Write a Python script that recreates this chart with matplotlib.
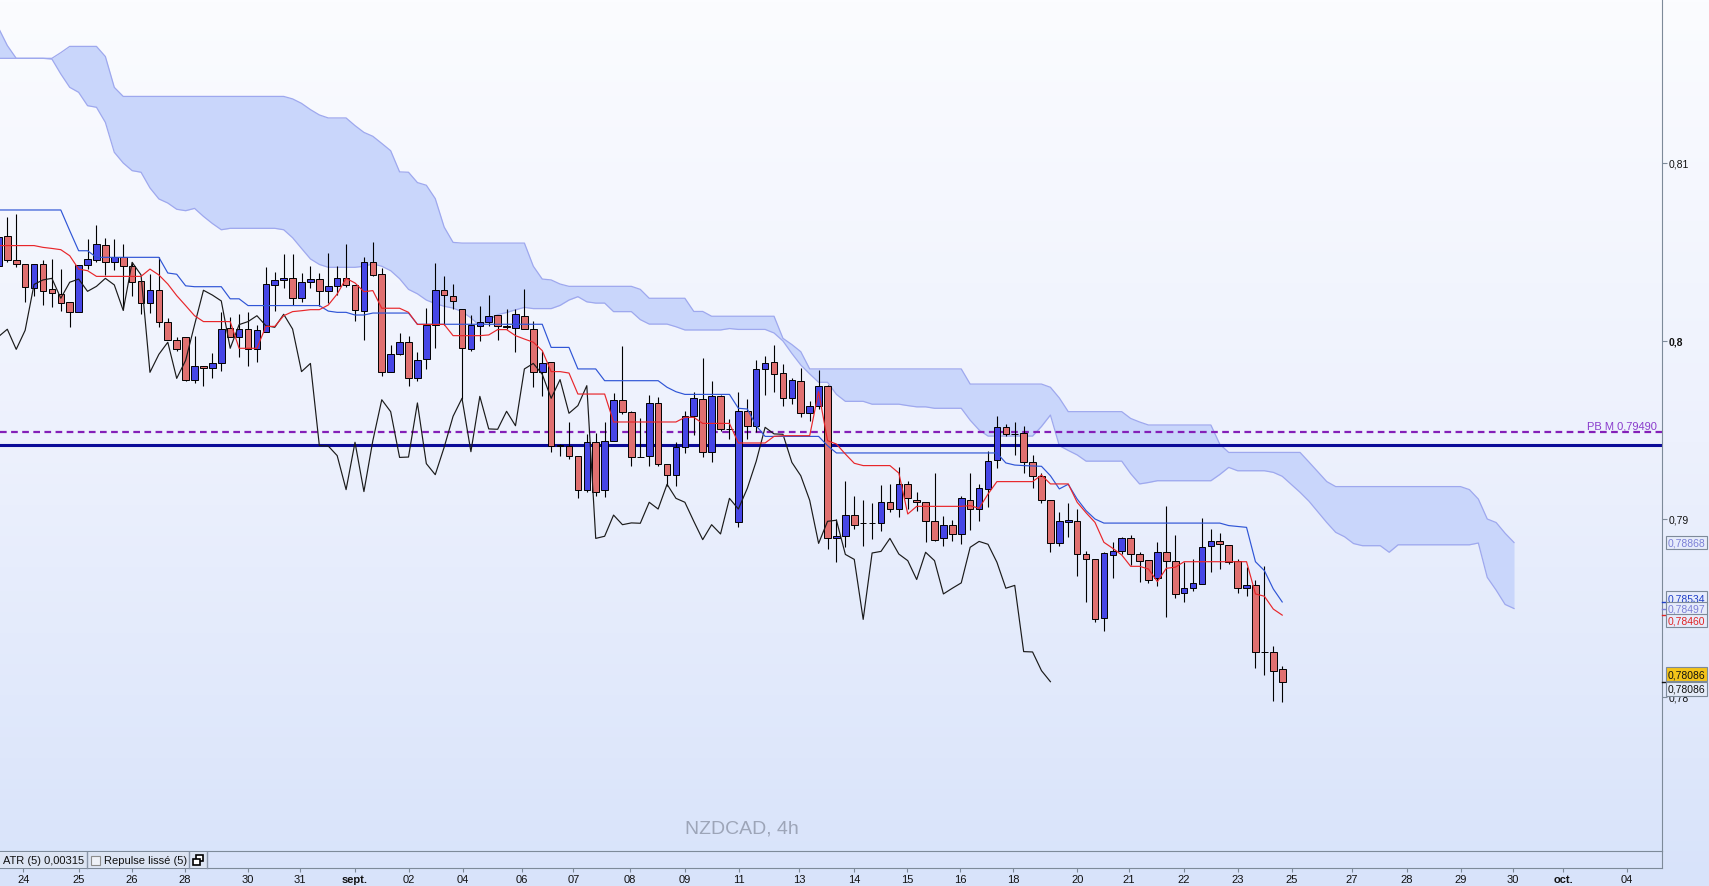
import numpy as np
import matplotlib
matplotlib.use('Agg')
import matplotlib.pyplot as plt
import matplotlib.transforms as mtransforms
from matplotlib.colors import LinearSegmentedColormap
from matplotlib.patches import Rectangle

plt.rcParams['font.family'] = ['Liberation Sans', 'DejaVu Sans']

# NZDCAD 4h candles, first value = candle half hidden at the left edge (index -1)
opens = [0.80420, 0.80588, 0.80456, 0.80431, 0.80300, 0.80431, 0.80292, 0.80266, 0.80217, 0.80161,
         0.80426, 0.80457, 0.80539, 0.80442, 0.80470, 0.80420, 0.80335, 0.80212, 0.80287, 0.80105,
         0.80004, 0.80021, 0.79783, 0.79858, 0.79847, 0.79875, 0.80071, 0.80024, 0.80066, 0.79953,
         0.80052, 0.80317, 0.80341, 0.80352, 0.80240, 0.80330, 0.80348, 0.80281, 0.80307, 0.80356,
         0.80315, 0.80169, 0.80442, 0.80375, 0.79828, 0.79929, 0.79993, 0.79790, 0.79899, 0.80090,
         0.80285, 0.80255, 0.80180, 0.79955, 0.80082, 0.80109, 0.80146, 0.80086, 0.80071, 0.80142,
         0.80067, 0.79828, 0.79880, 0.79415, 0.79408, 0.79356, 0.79161, 0.79431, 0.79161, 0.79438,
         0.79670, 0.79599, 0.79350, 0.79352, 0.79652, 0.79311, 0.79249, 0.79403, 0.79577, 0.79674,
         0.79378, 0.79689, 0.79506, 0.78981, 0.79605, 0.79520, 0.79843, 0.79880, 0.79818, 0.79678,
         0.79777, 0.79594, 0.79637, 0.79749, 0.78891, 0.78906, 0.79022, 0.78976, 0.78976, 0.78978,
         0.79094, 0.79056, 0.79195, 0.79109, 0.79094, 0.78987, 0.78891, 0.78968, 0.78916, 0.79109,
         0.79056, 0.79169, 0.79331, 0.79515, 0.79478, 0.79481, 0.79318, 0.79243, 0.79109, 0.78863,
         0.78981, 0.78987, 0.78801, 0.78773, 0.78442, 0.78800, 0.78818, 0.78891, 0.78803, 0.78770,
         0.78667, 0.78813, 0.78762, 0.78582, 0.78611, 0.78633, 0.78846, 0.78874, 0.78854, 0.78762,
         0.78612, 0.78627, 0.78255, 0.78251, 0.78157]
highs = [0.80590, 0.80695, 0.80713, 0.80431, 0.80431, 0.80457, 0.80461, 0.80404, 0.80217, 0.80427,
         0.80573, 0.80652, 0.80577, 0.80573, 0.80545, 0.80442, 0.80335, 0.80376, 0.80470, 0.80128,
         0.80021, 0.80021, 0.80030, 0.79858, 0.79933, 0.80161, 0.80133, 0.80152, 0.80161, 0.80090,
         0.80414, 0.80386, 0.80489, 0.80489, 0.80382, 0.80420, 0.80382, 0.80494, 0.80420, 0.80545,
         0.80315, 0.80470, 0.80558, 0.80408, 0.79978, 0.80045, 0.80030, 0.79936, 0.80184, 0.80438,
         0.80363, 0.80320, 0.80180, 0.80146, 0.80195, 0.80258, 0.80146, 0.80180, 0.80180, 0.80292,
         0.80114, 0.79946, 0.79880, 0.79421, 0.79547, 0.79356, 0.79478, 0.79483, 0.79543, 0.79708,
         0.79974, 0.79609, 0.79566, 0.79697, 0.79683, 0.79311, 0.79431, 0.79609, 0.79712, 0.79903,
         0.79777, 0.79697, 0.79562, 0.79715, 0.79674, 0.79895, 0.79914, 0.79978, 0.79871, 0.79790,
         0.79846, 0.79665, 0.79837, 0.79753, 0.79000, 0.79215, 0.79127, 0.79109, 0.79090, 0.79191,
         0.79197, 0.79290, 0.79215, 0.79154, 0.79097, 0.79258, 0.79015, 0.78994, 0.79131, 0.79258,
         0.79197, 0.79384, 0.79581, 0.79534, 0.79547, 0.79524, 0.79360, 0.79257, 0.79109, 0.79041,
         0.79090, 0.79056, 0.78820, 0.78773, 0.78816, 0.78873, 0.78901, 0.78910, 0.78813, 0.78770,
         0.78873, 0.79075, 0.78910, 0.78760, 0.78775, 0.79004, 0.78944, 0.78921, 0.78854, 0.78775,
         0.78729, 0.78657, 0.78734, 0.78285, 0.78176]
lows = [0.80400, 0.80442, 0.80414, 0.80221, 0.80251, 0.80204, 0.80189, 0.80170, 0.80077, 0.80161,
        0.80404, 0.80442, 0.80371, 0.80401, 0.80176, 0.80251, 0.80150, 0.80158, 0.80077, 0.80004,
        0.79946, 0.79777, 0.79764, 0.79749, 0.79790, 0.79833, 0.80021, 0.79908, 0.79858, 0.79884,
        0.80052, 0.80167, 0.80298, 0.80202, 0.80217, 0.80298, 0.80195, 0.80213, 0.80258, 0.80302,
        0.80114, 0.80008, 0.80367, 0.79805, 0.79824, 0.79921, 0.79745, 0.79777, 0.79843, 0.79959,
        0.80090, 0.80180, 0.79674, 0.79946, 0.80002, 0.80086, 0.80008, 0.80067, 0.79940, 0.80067,
        0.79740, 0.79689, 0.79374, 0.79356, 0.79337, 0.79116, 0.79150, 0.79131, 0.79122, 0.79438,
        0.79590, 0.79296, 0.79346, 0.79296, 0.79296, 0.79187, 0.79183, 0.79371, 0.79472, 0.79346,
        0.79322, 0.79496, 0.79449, 0.78953, 0.79449, 0.79487, 0.79697, 0.79712, 0.79633, 0.79646,
        0.79571, 0.79552, 0.79618, 0.78832, 0.78760, 0.78841, 0.78944, 0.78850, 0.78888, 0.78934,
        0.79041, 0.79013, 0.79056, 0.79047, 0.78869, 0.78878, 0.78850, 0.78878, 0.78860, 0.78940,
        0.78991, 0.79066, 0.79285, 0.79468, 0.79360, 0.79258, 0.79176, 0.79090, 0.78816, 0.78846,
        0.78901, 0.78682, 0.78536, 0.78423, 0.78373, 0.78667, 0.78803, 0.78742, 0.78648, 0.78641,
        0.78625, 0.78451, 0.78554, 0.78532, 0.78597, 0.78633, 0.78704, 0.78719, 0.78747, 0.78582,
        0.78566, 0.78161, 0.78125, 0.77980, 0.77970]
closes = [0.80582, 0.80457, 0.80431, 0.80306, 0.80431, 0.80283, 0.80268, 0.80212, 0.80161, 0.80427,
          0.80461, 0.80545, 0.80442, 0.80470, 0.80420, 0.80330, 0.80212, 0.80287, 0.80105, 0.80004,
          0.79957, 0.79783, 0.79858, 0.79847, 0.79875, 0.80066, 0.80024, 0.80066, 0.79953, 0.80060,
          0.80318, 0.80343, 0.80352, 0.80240, 0.80330, 0.80348, 0.80279, 0.80307, 0.80352, 0.80315,
          0.80172, 0.80442, 0.80371, 0.79824, 0.79925, 0.79993, 0.79790, 0.79891, 0.80090, 0.80285,
          0.80258, 0.80225, 0.79959, 0.80092, 0.80109, 0.80142, 0.80086, 0.80077, 0.80150, 0.80067,
          0.79828, 0.79874, 0.79412, 0.79410, 0.79356, 0.79165, 0.79431, 0.79154, 0.79440, 0.79670,
          0.79603, 0.79346, 0.79348, 0.79652, 0.79311, 0.79249, 0.79403, 0.79577, 0.79678, 0.79378,
          0.79689, 0.79506, 0.79504, 0.79605, 0.79524, 0.79843, 0.79874, 0.79813, 0.79678, 0.79783,
          0.79594, 0.79637, 0.79749, 0.78891, 0.78903, 0.79022, 0.78968, 0.78978, 0.78976, 0.79094,
          0.79056, 0.79195, 0.79116, 0.79094, 0.78987, 0.78884, 0.78968, 0.78916, 0.79116, 0.79056,
          0.79172, 0.79324, 0.79515, 0.79478, 0.79476, 0.79318, 0.79243, 0.79105, 0.78863, 0.78987,
          0.78993, 0.78801, 0.78773, 0.78436, 0.78809, 0.78818, 0.78891, 0.78803, 0.78766, 0.78660,
          0.78813, 0.78766, 0.78579, 0.78611, 0.78641, 0.78841, 0.78874, 0.78858, 0.78757, 0.78611,
          0.78627, 0.78255, 0.78253, 0.78148, 0.78086]

# Ichimoku lines, same index as the candles
tenkan = [0.80536, 0.80536, 0.80536, 0.80536, 0.80536, 0.80526, 0.80520, 0.80513, 0.80479, 0.80404,
          0.80395, 0.80363, 0.80363, 0.80363, 0.80363, 0.80363, 0.80363, 0.80404, 0.80371, 0.80320,
          0.80255, 0.80199, 0.80142, 0.80109, 0.80109, 0.80109, 0.80109, 0.79959, 0.79959, 0.79959,
          0.80082, 0.80082, 0.80142, 0.80165, 0.80170, 0.80176, 0.80176, 0.80202, 0.80264, 0.80352,
          0.80326, 0.80277, 0.80283, 0.80184, 0.80184, 0.80184, 0.80161, 0.80093, 0.80093, 0.80093,
          0.80093, 0.80030, 0.80030, 0.80030, 0.80030, 0.80034, 0.80064, 0.80064, 0.80030, 0.80011,
          0.79993, 0.79946, 0.79828, 0.79828, 0.79820, 0.79702, 0.79702, 0.79702, 0.79702, 0.79545,
          0.79545, 0.79545, 0.79545, 0.79545, 0.79545, 0.79545, 0.79545, 0.79571, 0.79571, 0.79537,
          0.79537, 0.79537, 0.79537, 0.79427, 0.79427, 0.79427, 0.79427, 0.79464, 0.79468, 0.79468,
          0.79468, 0.79468, 0.79715, 0.79440, 0.79421, 0.79365, 0.79313, 0.79300, 0.79300, 0.79300,
          0.79300, 0.79258, 0.79028, 0.79071, 0.79071, 0.79071, 0.79071, 0.79071, 0.79071, 0.79075,
          0.79060, 0.79140, 0.79210, 0.79210, 0.79210, 0.79210, 0.79210, 0.79247, 0.79197, 0.79197,
          0.79197, 0.79094, 0.79035, 0.78981, 0.78869, 0.78835, 0.78798, 0.78734, 0.78734, 0.78719,
          0.78648, 0.78723, 0.78729, 0.78760, 0.78760, 0.78760, 0.78760, 0.78760, 0.78760, 0.78760,
          0.78760, 0.78579, 0.78566, 0.78494, 0.78460]
kijun = [0.80736, 0.80736, 0.80736, 0.80736, 0.80736, 0.80736, 0.80736, 0.80736, 0.80620, 0.80507,
         0.80507, 0.80470, 0.80470, 0.80470, 0.80470, 0.80470, 0.80470, 0.80470, 0.80470, 0.80382,
         0.80375, 0.80310, 0.80305, 0.80305, 0.80305, 0.80305, 0.80237, 0.80237, 0.80199, 0.80199,
         0.80199, 0.80199, 0.80199, 0.80199, 0.80199, 0.80199, 0.80199, 0.80168, 0.80161, 0.80161,
         0.80146, 0.80146, 0.80157, 0.80157, 0.80157, 0.80157, 0.80157, 0.80094, 0.80094, 0.80094,
         0.80094, 0.80094, 0.80094, 0.80094, 0.80094, 0.80094, 0.80094, 0.80094, 0.80094, 0.80094,
         0.80094, 0.80094, 0.79964, 0.79964, 0.79964, 0.79843, 0.79843, 0.79843, 0.79777, 0.79777,
         0.79777, 0.79777, 0.79777, 0.79777, 0.79777, 0.79740, 0.79715, 0.79700, 0.79700, 0.79700,
         0.79700, 0.79700, 0.79700, 0.79622, 0.79618, 0.79524, 0.79464, 0.79464, 0.79464, 0.79464,
         0.79464, 0.79464, 0.79464, 0.79412, 0.79371, 0.79371, 0.79371, 0.79371, 0.79371, 0.79371,
         0.79371, 0.79371, 0.79371, 0.79371, 0.79371, 0.79371, 0.79371, 0.79371, 0.79371, 0.79371,
         0.79371, 0.79371, 0.79371, 0.79315, 0.79303, 0.79300, 0.79298, 0.79296, 0.79243, 0.79169,
         0.79195, 0.79112, 0.79047, 0.79000, 0.78977, 0.78977, 0.78977, 0.78977, 0.78977, 0.78977,
         0.78977, 0.78977, 0.78977, 0.78977, 0.78977, 0.78977, 0.78977, 0.78977, 0.78963, 0.78958,
         0.78953, 0.78760, 0.78710, 0.78607, 0.78534]

# Kumo edges, index -1 .. 169 (26 bars ahead of the last candle)
cloud_a = [0.81760, 0.81660, 0.81588, 0.81588, 0.81588, 0.81588, 0.81588, 0.81620, 0.81655, 0.81655,
           0.81655, 0.81655, 0.81598, 0.81425, 0.81374, 0.81374, 0.81374, 0.81374, 0.81374, 0.81374,
           0.81374, 0.81374, 0.81374, 0.81374, 0.81374, 0.81374, 0.81374, 0.81374, 0.81374, 0.81374,
           0.81374, 0.81374, 0.81374, 0.81360, 0.81335, 0.81300, 0.81270, 0.81253, 0.81253, 0.81253,
           0.81210, 0.81172, 0.81150, 0.81110, 0.81069, 0.80950, 0.80948, 0.80890, 0.80875, 0.80800,
           0.80640, 0.80554, 0.80550, 0.80550, 0.80550, 0.80550, 0.80550, 0.80550, 0.80550, 0.80550,
           0.80420, 0.80348, 0.80343, 0.80320, 0.80307, 0.80307, 0.80307, 0.80307, 0.80307, 0.80307,
           0.80307, 0.80307, 0.80290, 0.80240, 0.80240, 0.80240, 0.80240, 0.80240, 0.80166, 0.80166,
           0.80139, 0.80139, 0.80139, 0.80139, 0.80139, 0.80139, 0.80139, 0.80139, 0.80015, 0.79980,
           0.79940, 0.79843, 0.79843, 0.79843, 0.79843, 0.79843, 0.79843, 0.79843, 0.79843, 0.79843,
           0.79843, 0.79843, 0.79843, 0.79843, 0.79843, 0.79843, 0.79843, 0.79843, 0.79843, 0.79758,
           0.79758, 0.79758, 0.79758, 0.79758, 0.79758, 0.79758, 0.79758, 0.79758, 0.79740, 0.79680,
           0.79603, 0.79603, 0.79603, 0.79603, 0.79603, 0.79603, 0.79603, 0.79565, 0.79545, 0.79528,
           0.79528, 0.79528, 0.79528, 0.79528, 0.79528, 0.79528, 0.79528, 0.79420, 0.79374, 0.79374,
           0.79374, 0.79374, 0.79374, 0.79374, 0.79374, 0.79374, 0.79374, 0.79320, 0.79265, 0.79210,
           0.79182, 0.79182, 0.79182, 0.79182, 0.79182, 0.79182, 0.79182, 0.79182, 0.79182, 0.79182,
           0.79182, 0.79182, 0.79182, 0.79182, 0.79182, 0.79165, 0.79112, 0.79000, 0.78980, 0.78920,
           0.78868]
cloud_b = [0.81588, 0.81588, 0.81588, 0.81588, 0.81588, 0.81588, 0.81584, 0.81500, 0.81425, 0.81397,
           0.81322, 0.81313, 0.81228, 0.81060, 0.81000, 0.80957, 0.80948, 0.80860, 0.80798, 0.80775,
           0.80740, 0.80732, 0.80745, 0.80700, 0.80660, 0.80625, 0.80633, 0.80633, 0.80633, 0.80633,
           0.80633, 0.80633, 0.80625, 0.80580, 0.80520, 0.80461, 0.80430, 0.80414, 0.80414, 0.80414,
           0.80414, 0.80420, 0.80433, 0.80420, 0.80395, 0.80350, 0.80290, 0.80265, 0.80230, 0.80210,
           0.80195, 0.80185, 0.80165, 0.80130, 0.80085, 0.80120, 0.80148, 0.80160, 0.80175, 0.80189,
           0.80182, 0.80182, 0.80182, 0.80200, 0.80230, 0.80249, 0.80220, 0.80213, 0.80213, 0.80165,
           0.80165, 0.80165, 0.80120, 0.80095, 0.80095, 0.80095, 0.80080, 0.80062, 0.80062, 0.80062,
           0.80062, 0.80062, 0.80070, 0.80065, 0.80065, 0.80065, 0.80065, 0.80045, 0.80000, 0.79930,
           0.79865, 0.79815, 0.79768, 0.79768, 0.79700, 0.79661, 0.79661, 0.79661, 0.79645, 0.79645,
           0.79645, 0.79645, 0.79637, 0.79630, 0.79630, 0.79622, 0.79622, 0.79622, 0.79622, 0.79555,
           0.79500, 0.79466, 0.79466, 0.79466, 0.79466, 0.79466, 0.79466, 0.79520, 0.79584, 0.79412,
           0.79385, 0.79360, 0.79325, 0.79325, 0.79325, 0.79325, 0.79325, 0.79255, 0.79197, 0.79205,
           0.79215, 0.79215, 0.79215, 0.79215, 0.79215, 0.79215, 0.79215, 0.79250, 0.79290, 0.79271,
           0.79271, 0.79271, 0.79271, 0.79262, 0.79240, 0.79195, 0.79150, 0.79100, 0.79040, 0.78980,
           0.78925, 0.78900, 0.78862, 0.78850, 0.78850, 0.78850, 0.78813, 0.78855, 0.78855, 0.78855,
           0.78855, 0.78855, 0.78855, 0.78855, 0.78855, 0.78855, 0.78865, 0.78672, 0.78600, 0.78520,
           0.78497]

pb_level = 0.79490
support_level = 0.79417

day_pos = [1.8, 8.0, 14.0, 19.9, 27.0, 32.8, 39.0, 45.0, 51.1, 57.7, 63.5, 69.8, 76.0, 82.1, 88.8,
           95.0, 100.9, 106.9, 112.8, 120.0, 125.8, 132.0, 138.0, 144.1, 150.8, 157.0, 163.0, 168.9,
           174.5, 181.7]
day_lab = ['24', '25', '26', '28', '30', '31', 'sept.', '02', '04', '06', '07', '08', '09', '11', '13',
           '14', '15', '16', '18', '20', '21', '22', '23', '25', '27', '28', '29', '30', 'oct.', '04']

W, H = 1709, 887
fig = plt.figure(figsize=(W / 100, H / 100), dpi=100)

def fx(px):
    return px / W

def fy(py):
    return 1 - py / H

# background gradient
bg = fig.add_axes([0, 0, 1, 1], zorder=-10)
grad = np.linspace(0, 1, 256).reshape(-1, 1)
cmap = LinearSegmentedColormap.from_list('bg', ['#fbfcff', '#edf1fd', '#d8e3fa'])
bg.imshow(grad, aspect='auto', cmap=cmap, extent=[0, 1, 0, 1])
bg.axis('off')

ax = fig.add_axes([0, fy(852), fx(1662), 852 / H])
ax.patch.set_alpha(0)
ax.set_xlim(-0.82, 185.6)
ax.set_ylim(0.771348, 0.819213)

o = np.array(opens)
h = np.array(highs)
l = np.array(lows)
c = np.array(closes)
x = np.arange(len(o)) - 1

# cloud
xc = np.arange(len(cloud_a)) - 1
ax.fill_between(xc, cloud_a, cloud_b, color='#c9d6fb', lw=0, zorder=1)
ax.plot(xc, cloud_a, color='#9ea8ee', lw=0.9, zorder=1.5)
ax.plot(xc, cloud_b, color='#9ea8ee', lw=0.9, zorder=1.5)

# levels
ax.axhline(support_level, color='#0b0b98', lw=2.2, zorder=2)
ax.axhline(pb_level, color='#8420b8', lw=1.6, dashes=(3, 2), zorder=2)
blend = mtransforms.blended_transform_factory(ax.transAxes, ax.transData)
ax.text(0.997, pb_level + 0.0002, 'PB M 0,79490', transform=blend, ha='right', va='baseline',
        color='#8a3ccc', fontsize=8, zorder=6)

# candles
ax.vlines(x, l, h, color='black', lw=0.8, zorder=3)
up = c > o
cols = np.where(up, '#4646e6', '#e07070')
ax.bar(x, np.abs(c - o), bottom=np.minimum(o, c), width=0.74, color=cols,
       edgecolor='black', linewidth=0.7, zorder=4)

# ichimoku lines
ax.plot(x[26:] - 26, c[26:], color='#1a1a1a', lw=0.85, zorder=5)
ax.plot(x, kijun, color='#2f55d6', lw=0.85, zorder=5)
ax.plot(x, tenkan, color='#e8262a', lw=0.85, zorder=5)

# axes look
for s in ['top', 'left']:
    ax.spines[s].set_visible(False)
for s in ['right', 'bottom']:
    ax.spines[s].set_color('#7d8a99')
ax.tick_params(axis='x', bottom=False, labelbottom=False)
ax.yaxis.tick_right()
ax.set_yticks([0.78, 0.79, 0.80, 0.81])
ax.set_yticklabels(['0,78', '0,79', '0,8', '0,81'])
ax.get_yticklabels()[2].set_fontweight('bold')
ax.tick_params(axis='y', direction='out', length=3.5, pad=1.5, labelsize=7.5,
               color='#7d8a99', labelcolor='#111111')

# price boxes on the right
def price_box(y, txt, tc, fc, ec='#7d8a99'):
    ax.text(1.0035, y, txt, transform=blend, ha='left', va='center', fontsize=7.5, color=tc,
            clip_on=False, zorder=8,
            bbox=dict(boxstyle='square,pad=0.18', fc=fc, ec=ec, lw=0.8))

price_box(0.78868, '0,78868', '#7b7fd6', '#e6ecfb')
price_box(0.78556, '0,78534', '#2040c8', '#e6ecfb')
price_box(0.78497, '0,78497', '#7b7fd6', '#e6ecfb')
price_box(0.78430, '0,78460', '#e02424', '#e6ecfb')
price_box(0.78129, '0,78086', '#111111', '#f4c419')
price_box(0.78045, '0,78086', '#111111', '#e4ebf8')
for yv, col in [(0.78534, '#2040c8'), (0.78497, '#7b7fd6'), (0.78460, '#e02424'), (0.78086, '#111111')]:
    ax.plot([1.0, 1.004], [yv, yv], transform=blend, color=col, lw=1, clip_on=False, zorder=7)

fig.text(fx(742), fy(829), 'NZDCAD, 4h', ha='center', va='center', fontsize=14, color='#9da5b8')

# indicator strip
sax = fig.add_axes([0, fy(869), fx(1662), 17 / H], sharex=ax)
sax.patch.set_alpha(0)
sax.set_yticks([])
for s in ['top', 'left']:
    sax.spines[s].set_visible(False)
for s in ['right', 'bottom']:
    sax.spines[s].set_color('#7d8a99')
sax.set_xticks(day_pos)
sax.set_xticklabels(day_lab)
for t in sax.get_xticklabels():
    if t.get_text() in ('sept.', 'oct.'):
        t.set_fontweight('bold')
sax.tick_params(axis='x', direction='out', length=3, pad=1, labelsize=8,
                color='#7d8a99', labelcolor='#111111')

# ATR / Repulse legend box
ft = fig.transFigure
fig.patches.append(Rectangle((0, fy(869)), fx(207), 16 / H, transform=ft,
                             fc='#dce4f3', ec='none', zorder=5))
for sx in [87, 189, 207]:
    fig.lines.append(plt.Line2D([fx(sx), fx(sx)], [fy(869), fy(853)], transform=ft,
                                color='#8a96a8', lw=1, zorder=6))
fig.patches.append(Rectangle((fx(91), fy(866)), fx(9), 9 / H, transform=ft,
                             fc='#eef1f7', ec='#8c8c8c', lw=0.8, zorder=6))
fig.text(fx(3), fy(861), 'ATR (5) 0,00315', ha='left', va='center', fontsize=8,
         color='#111111', zorder=8)
fig.text(fx(104), fy(861), 'Repulse lissé (5)', ha='left', va='center', fontsize=8,
         color='#111111', zorder=8)
fig.patches.append(Rectangle((fx(196), fy(862)), fx(7), 6 / H, transform=ft,
                             fc='white', ec='black', lw=1.2, zorder=6))
fig.patches.append(Rectangle((fx(193), fy(866)), fx(7), 6 / H, transform=ft,
                             fc='white', ec='black', lw=1.2, zorder=7))

fig.savefig('out.png', dpi=100)
